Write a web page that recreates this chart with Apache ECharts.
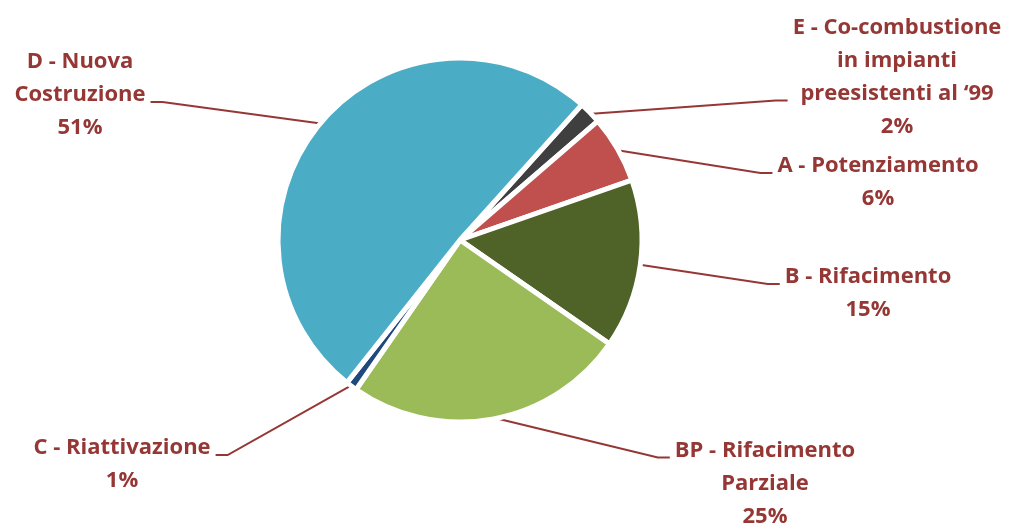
<!DOCTYPE html>
<html>
<head>
<meta charset="utf-8">
<script src="https://cdn.jsdelivr.net/npm/echarts@6/dist/echarts.min.js"></script>
<style>
html,body{margin:0;padding:0;background:#fff;}
#chart{width:1011px;height:528px;}
</style>
</head>
<body>
<div id="chart"></div>
<script>
// ---- data ----
const categories = [
  'E - Co-combustione\nin impianti\npreesistenti al \u201899',
  'A - Potenziamento',
  'B - Rifacimento',
  'BP - Rifacimento\nParziale',
  'C - Riattivazione',
  'D - Nuova\nCostruzione'
];
const shares = [2, 6, 15, 25, 1, 51];
const sliceColors = ['#3f3f3f', '#c0504d', '#4f6228', '#9bbb59', '#1f497d', '#4bacc6'];

// ---- label placement (layout config) ----
const LH = 33;
const placement = [
  { x: 897, y: 77,    side: 'right', line: 2 },
  { x: 878, y: 182.5, side: 'right', line: 0 },
  { x: 868, y: 293.5, side: 'right', line: 0 },
  { x: 765, y: 483.5, side: 'right', line: 0 },
  { x: 122, y: 464.5, side: 'left',  line: 0 },
  { x: 80,  y: 95,    side: 'left',  line: 1 }
];

const chart = echarts.init(document.getElementById('chart'), null, { renderer: 'canvas' });
const CX = 460, CY = 240, R = 182, START = 48;

function edgePoint(idx) {
  const total = shares.reduce((a, b) => a + b, 0);
  let before = 0;
  for (let i = 0; i < idx; i++) before += shares[i];
  const mid = (START - (before + shares[idx] / 2) / total * 360) * Math.PI / 180;
  return [CX + (R - 2) * Math.cos(mid), CY - (R - 2) * Math.sin(mid)];
}

chart.setOption({
  animation: false,
  backgroundColor: '#ffffff',
  series: [{
    type: 'pie',
    center: [CX, CY],
    radius: R,
    startAngle: START,
    clockwise: true,
    avoidLabelOverlap: false,
    itemStyle: { borderColor: '#ffffff', borderWidth: 5 },
    label: {
      show: true,
      position: 'outside',
      formatter: p => p.name + '\n' + p.value + '%',
      fontFamily: 'Open Sans',
      fontWeight: 'bold',
      fontSize: 22,
      lineHeight: LH,
      color: '#953735'
    },
    labelLine: { show: true, lineStyle: { color: '#953735', width: 2 } },
    labelLayout: function (params) {
      const i = params.dataIndex;
      const p = placement[i];
      const w = params.labelRect.width, h = params.labelRect.height;
      const left = p.x - w / 2, right = p.x + w / 2, top = p.y - h / 2;
      const ay = top + (p.line + 0.5) * LH + 7;
      let ax, bx;
      if (p.side === 'right') { ax = left - 5; bx = ax - 12; }
      else { ax = right + 5; bx = ax + 12; }
      const p0 = edgePoint(i);
      return {
        x: p.x, y: p.y, align: 'center', verticalAlign: 'middle',
        labelLinePoints: [p0, [bx, ay], [ax, ay]]
      };
    },
    data: categories.map((c, i) => ({ name: c, value: shares[i], itemStyle: { color: sliceColors[i] } }))
  }]
});
</script>
</body>
</html>
